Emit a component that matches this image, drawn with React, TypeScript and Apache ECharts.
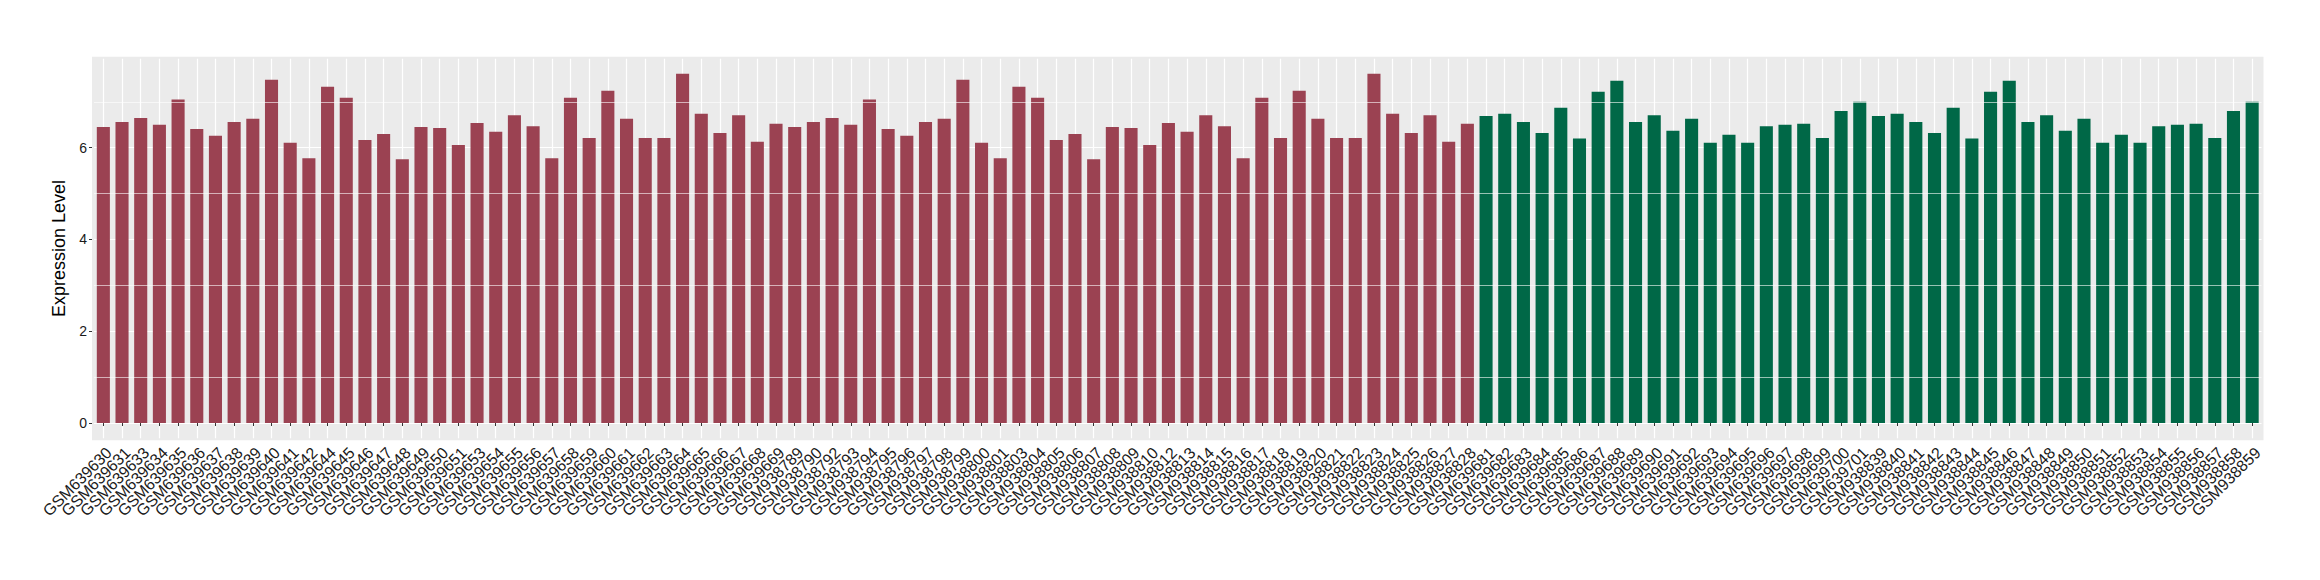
import React, { useEffect, useRef } from "react";
import * as echarts from "echarts";

// Group 1 (red) samples and expression values
const redSamplesA = [
  "GSM639630", "GSM639631", "GSM639633", "GSM639634", "GSM639635", "GSM639636", "GSM639637", "GSM639638",
  "GSM639639", "GSM639640", "GSM639641", "GSM639642", "GSM639644", "GSM639645", "GSM639646", "GSM639647",
  "GSM639648", "GSM639649", "GSM639650", "GSM639651", "GSM639653", "GSM639654", "GSM639655", "GSM639656",
  "GSM639657", "GSM639658", "GSM639659", "GSM639660", "GSM639661", "GSM639662", "GSM639663", "GSM639664",
  "GSM639665", "GSM639666", "GSM639667", "GSM639668", "GSM639669",
];
const redValuesA = [
  6.45, 6.56, 6.65, 6.5, 7.05, 6.41, 6.26, 6.56, 6.63, 7.48,
  6.11, 5.77, 7.33, 7.09, 6.17, 6.3, 5.75, 6.45, 6.43, 6.06,
  6.54, 6.35, 6.71, 6.47, 5.77, 7.09, 6.21, 7.24, 6.63, 6.21,
  6.21, 7.61, 6.74, 6.32, 6.71, 6.13, 6.52,
];
const redSamplesB = [
  "GSM938789", "GSM938790", "GSM938792", "GSM938793", "GSM938794", "GSM938795", "GSM938796", "GSM938797",
  "GSM938798", "GSM938799", "GSM938800", "GSM938801", "GSM938803", "GSM938804", "GSM938805", "GSM938806",
  "GSM938807", "GSM938808", "GSM938809", "GSM938810", "GSM938812", "GSM938813", "GSM938814", "GSM938815",
  "GSM938816", "GSM938817", "GSM938818", "GSM938819", "GSM938820", "GSM938821", "GSM938822", "GSM938823",
  "GSM938824", "GSM938825", "GSM938826", "GSM938827", "GSM938828",
];
const redValuesB = [
  6.45, 6.56, 6.65, 6.5, 7.05, 6.41, 6.26, 6.56, 6.63, 7.48,
  6.11, 5.77, 7.33, 7.09, 6.17, 6.3, 5.75, 6.45, 6.43, 6.06,
  6.54, 6.35, 6.71, 6.47, 5.77, 7.09, 6.21, 7.24, 6.63, 6.21,
  6.21, 7.61, 6.74, 6.32, 6.71, 6.13, 6.52,
];

// Group 2 (green) samples and expression values
const greenSamplesA = [
  "GSM639681", "GSM639682", "GSM639683", "GSM639684", "GSM639685", "GSM639686", "GSM639687", "GSM639688",
  "GSM639689", "GSM639690", "GSM639691", "GSM639692", "GSM639693", "GSM639694", "GSM639695", "GSM639696",
  "GSM639697", "GSM639698", "GSM639699", "GSM639700", "GSM639701",
];
const greenValuesA = [
  6.69, 6.74, 6.56, 6.32, 6.87, 6.2, 7.22, 7.46, 6.56, 6.71,
  6.37, 6.63, 6.11, 6.28, 6.11, 6.47, 6.5, 6.52, 6.21, 6.8, 7.0,
];
const greenSamplesB = [
  "GSM938839", "GSM938840", "GSM938841", "GSM938842", "GSM938843", "GSM938844", "GSM938845", "GSM938846",
  "GSM938847", "GSM938848", "GSM938849", "GSM938850", "GSM938851", "GSM938852", "GSM938853", "GSM938854",
  "GSM938855", "GSM938856", "GSM938857", "GSM938858", "GSM938859",
];
const greenValuesB = [
  6.69, 6.74, 6.56, 6.32, 6.87, 6.2, 7.22, 7.46, 6.56, 6.71,
  6.37, 6.63, 6.11, 6.28, 6.11, 6.47, 6.5, 6.52, 6.21, 6.8, 7.0,
];

const majorTicks = [0, 2, 4, 6];
const minorTicks = [1, 3, 5, 7];

const RED = "#9B4252";
const GREEN = "#006847";
const FONT = "Liberation Sans, Arial, Helvetica, sans-serif";

export default function App() {
  const ref = useRef<HTMLDivElement>(null);

  useEffect(() => {
    if (!ref.current) return;
    const chart = echarts.init(ref.current, undefined, { renderer: "svg" });

    const categories = [...redSamplesA, ...redSamplesB, ...greenSamplesA, ...greenSamplesB];
    const barData = [
      ...redValuesA.map((v) => ({ value: v, itemStyle: { color: RED } })),
      ...redValuesB.map((v) => ({ value: v, itemStyle: { color: RED } })),
      ...greenValuesA.map((v) => ({ value: v, itemStyle: { color: GREEN } })),
      ...greenValuesB.map((v) => ({ value: v, itemStyle: { color: GREEN } })),
    ];
    const allValues = [...redValuesA, ...redValuesB, ...greenValuesA, ...greenValuesB];

    const option: any = {
      animation: false,
      grid: {
        left: 94,
        right: 58.5,
        top: 58.7,
        bottom: 141.7,
        show: true,
        backgroundColor: "#EBEBEB",
        borderColor: "#EBEBEB",
        borderWidth: 4,
        containLabel: false,
        outerBoundsMode: "none",
      },
      xAxis: {
        type: "category",
        data: categories,
        boundaryGap: true,
        offset: 2,
        axisLine: { show: false },
        axisTick: {
          show: true,
          alignWithLabel: true,
          interval: 0,
          length: 3,
          lineStyle: { color: "#333333", width: 1 },
        },
        axisLabel: {
          interval: 0,
          rotate: 45,
          align: "right",
          verticalAlign: "top",
          fontSize: 16,
          fontFamily: FONT,
          color: "#1a1a1a",
          margin: 4,
        },
        splitLine: {
          show: true,
          alignWithLabel: true,
          interval: 0,
          lineStyle: { color: "#FFFFFF", width: 1.2 },
        },
      },
      yAxis: {
        type: "value",
        min: -0.333,
        max: 7.94,
        offset: 2,
        name: "Expression Level",
        nameLocation: "middle",
        nameRotate: 90,
        nameGap: 20,
        nameTextStyle: { fontSize: 18, fontFamily: FONT, color: "#000000" },
        axisLine: { show: false },
        axisTick: {
          show: true,
          length: 3,
          customValues: majorTicks,
          lineStyle: { color: "#333333", width: 1 },
        },
        axisLabel: {
          customValues: majorTicks,
          fontSize: 14,
          fontFamily: FONT,
          color: "#1a1a1a",
          margin: 5,
          formatter: (v: number) => {
            const r = Math.round(v);
            return Math.abs(v - r) < 1e-6 && majorTicks.includes(r) ? String(r) : "";
          },
        },
        splitLine: { show: true, lineStyle: { color: "#FFFFFF", width: 1.2 } },
      },
      series: [
        {
          type: "line",
          data: allValues,
          silent: true,
          showSymbol: false,
          symbol: "none",
          lineStyle: { opacity: 0, width: 0 },
          z: 1,
          markLine: {
            silent: true,
            symbol: ["none", "none"],
            label: { show: false },
            lineStyle: { color: "#FFFFFF", width: 0.6, type: "solid" },
            data: minorTicks.map((v) => ({ yAxis: v })),
          },
        },
        {
          type: "bar",
          data: barData,
          barWidth: "70%",
          z: 2,
        },
      ],
    };

    chart.setOption(option);
    return () => chart.dispose();
  }, []);

  return (
    <div
      ref={ref}
      style={{ position: "absolute", left: 0, top: 0, width: 2320, height: 580, background: "#FFFFFF" }}
    />
  );
}
